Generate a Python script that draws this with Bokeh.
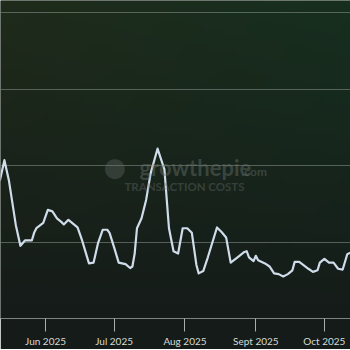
import numpy as np
import pandas as pd
from bokeh.plotting import figure
from bokeh.models import Range1d, FixedTicker, DatetimeTickFormatter, Label
from bokeh.embed import file_html
from bokeh.resources import INLINE

# ---- data ----
dates = ["2025-05-12", "2025-05-14", "2025-05-16", "2025-05-19", "2025-05-21", "2025-05-23",
         "2025-05-26", "2025-05-27", "2025-05-28", "2025-05-31", "2025-06-02", "2025-06-04",
         "2025-06-06", "2025-06-08", "2025-06-09", "2025-06-11", "2025-06-13", "2025-06-15",
         "2025-06-17", "2025-06-18", "2025-06-20", "2025-06-22", "2025-06-24", "2025-06-26",
         "2025-06-28", "2025-06-29", "2025-07-01", "2025-07-03", "2025-07-06", "2025-07-08",
         "2025-07-09", "2025-07-10", "2025-07-11", "2025-07-13", "2025-07-15", "2025-07-17",
         "2025-07-20", "2025-07-23", "2025-07-25", "2025-07-27", "2025-07-29", "2025-07-31",
         "2025-08-02", "2025-08-04", "2025-08-06", "2025-08-07", "2025-08-09", "2025-08-11",
         "2025-08-15", "2025-08-17", "2025-08-19", "2025-08-21", "2025-08-24", "2025-08-27",
         "2025-08-28", "2025-08-29", "2025-08-31", "2025-09-01", "2025-09-02", "2025-09-05",
         "2025-09-07", "2025-09-09", "2025-09-11", "2025-09-13", "2025-09-15", "2025-09-17",
         "2025-09-18", "2025-09-20", "2025-09-24", "2025-09-26", "2025-09-28", "2025-09-29",
         "2025-10-01", "2025-10-03", "2025-10-05", "2025-10-07", "2025-10-09", "2025-10-11",
         "2025-10-13"]
costs = [1.80, 2.07, 1.80, 1.22, 0.95, 1.02,
         1.02, 1.12, 1.18, 1.25, 1.42, 1.40,
         1.31, 1.26, 1.23, 1.29, 1.24, 1.19,
         1.02, 0.92, 0.72, 0.73, 0.99, 1.16,
         1.16, 1.12, 0.93, 0.73, 0.71, 0.66,
         0.68, 0.85, 1.18, 1.31, 1.55, 1.90,
         2.22, 1.95, 1.18, 0.88, 0.85, 1.18,
         1.18, 1.12, 0.70, 0.59, 0.62, 0.80,
         1.19, 1.13, 1.06, 0.73, 0.80, 0.87,
         0.88, 0.80, 0.75, 0.82, 0.76, 0.72,
         0.68, 0.59, 0.58, 0.55, 0.58, 0.63,
         0.74, 0.74, 0.65, 0.61, 0.63, 0.73,
         0.78, 0.73, 0.73, 0.65, 0.64, 0.84,
         0.87]
y_ticks = [0, 1, 2, 3, 4]
x_tick_dates = ["2025-06-01", "2025-07-01", "2025-08-01", "2025-09-01", "2025-10-01"]
x_tick_labels = ["Jun 2025", "Jul 2025", "Aug 2025", "Sept 2025", "Oct 2025"]

x = pd.to_datetime(dates)
x_start = pd.Timestamp("2025-05-12 07:00")
x_end = pd.Timestamp("2025-10-12 10:00")

p = figure(frame_width=350, frame_height=318, output_backend="svg", toolbar_location=None,
           x_axis_type="datetime",
           x_range=Range1d(x_start, x_end), y_range=Range1d(0, 4.157),
           min_border=0, min_border_left=0, min_border_right=0, min_border_top=0,
           min_border_bottom=0)
p.outline_line_color = None
p.border_fill_color = "#151b19"
p.background_fill_color = "#18231b"

# background gradient
H, W = 64, 64
yy, xx = np.mgrid[0:H, 0:W] / np.array([H - 1, W - 1])[:, None, None]
top_left = np.array([0x1f, 0x2b, 0x1b])
top_right = np.array([0x17, 0x2f, 0x1f])
bottom = np.array([0x15, 0x1b, 0x19])
top = top_left[None, None, :] * (1 - xx[..., None]) + top_right[None, None, :] * xx[..., None]
t = np.clip(yy, 0, 1)[..., None] ** 0.9
col = bottom[None, None, :] * (1 - t) + top * t
img = np.empty((H, W), dtype=np.uint32)
view = img.view(dtype=np.uint8).reshape((H, W, 4))
view[..., 0] = col[..., 0].astype(np.uint8)
view[..., 1] = col[..., 1].astype(np.uint8)
view[..., 2] = col[..., 2].astype(np.uint8)
view[..., 3] = 255
p.image_rgba(image=[img], x=x_start, y=0, dw=(x_end - x_start).total_seconds() * 1000,
             dh=4.157, level="image")

# watermark
wm = "#6a716d"
p.add_layout(Label(x=139, y=138, x_units="screen", y_units="screen", text="growthepie",
                   text_font="Lato", text_font_size="22px", text_font_style="bold",
                   text_color=wm, text_alpha=0.45))
p.add_layout(Label(x=241, y=140, x_units="screen", y_units="screen", text=".com",
                   text_font="Lato", text_font_size="12px", text_font_style="bold",
                   text_color=wm, text_alpha=0.45))
p.add_layout(Label(x=184, y=126, x_units="screen", y_units="screen", text="TRANSACTION COSTS",
                   text_font="Lato", text_font_size="11.5px", text_font_style="bold",
                   text_align="center", text_color=wm, text_alpha=0.4))
p.add_layout(Label(x=103, y=137, x_units="screen", y_units="screen", text="\u25cf",
                   text_font="DejaVu Sans", text_font_size="26px",
                   text_color=wm, text_alpha=0.35))

p.line(x, costs, line_color="#cfdcea", line_width=2.2, line_join="round")

p.xgrid.grid_line_color = None
p.ygrid.ticker = FixedTicker(ticks=y_ticks)
p.ygrid.grid_line_color = "#8a938e"
p.ygrid.grid_line_alpha = 0.55
p.ygrid.grid_line_width = 1

p.yaxis.visible = False
xa = p.xaxis[0]
tick_ms = [pd.Timestamp(d).value / 1e6 for d in x_tick_dates]
xa.ticker = FixedTicker(ticks=tick_ms)
xa.formatter = DatetimeTickFormatter(months="%b %Y", days="%b %Y")
xa.major_label_overrides = {ms: lab for ms, lab in zip(tick_ms, x_tick_labels)}
xa.axis_line_color = "#8a938e"
xa.axis_line_alpha = 0.8
xa.major_tick_line_color = "#a7afab"
xa.major_tick_out = 13
xa.major_tick_in = 0
xa.minor_tick_out = 0
xa.minor_tick_in = 0
xa.major_label_standoff = 3
xa.major_label_text_color = "#d4dbd7"
xa.major_label_text_font = "Lato"
xa.major_label_text_font_size = "10px"

open("out.html", "w").write(file_html(p, INLINE))
